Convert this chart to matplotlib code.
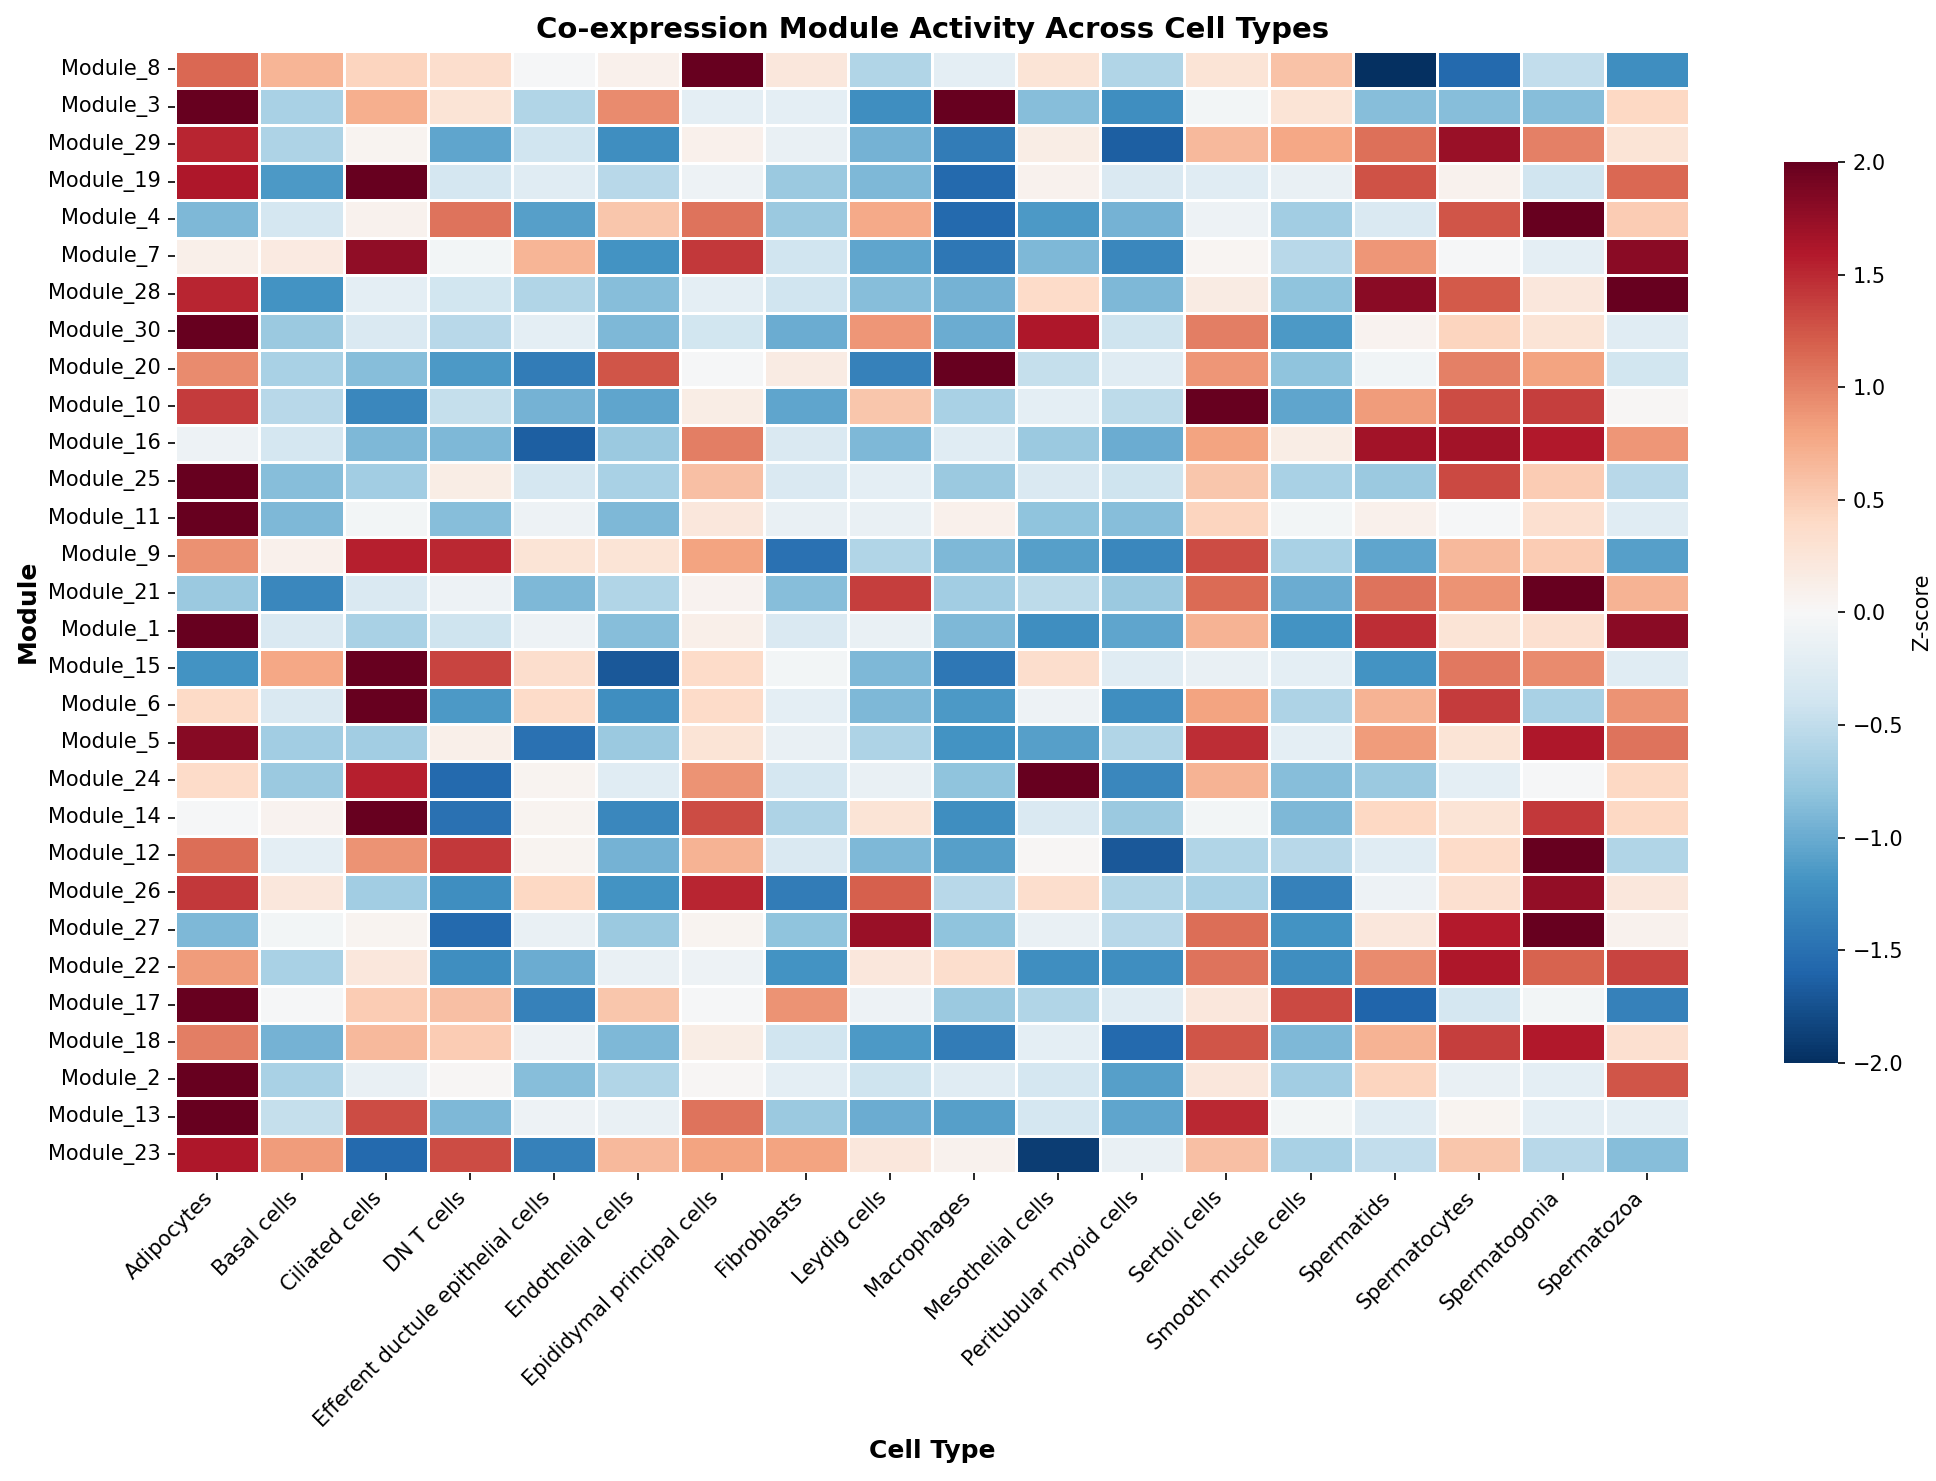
import matplotlib
matplotlib.use("Agg")
import matplotlib.pyplot as plt
import seaborn as sns
import numpy as np

cell_types = ["Adipocytes", "Basal cells", "Ciliated cells", "DN T cells",
              "Efferent ductule epithelial cells", "Endothelial cells",
              "Epididymal principal cells", "Fibroblasts", "Leydig cells",
              "Macrophages", "Mesothelial cells", "Peritubular myoid cells",
              "Sertoli cells", "Smooth muscle cells", "Spermatids",
              "Spermatocytes", "Spermatogonia", "Spermatozoa"]

modules = ["Module_8", "Module_3", "Module_29", "Module_19", "Module_4", "Module_7",
           "Module_28", "Module_30", "Module_20", "Module_10", "Module_16", "Module_25",
           "Module_11", "Module_9", "Module_21", "Module_1", "Module_15", "Module_6",
           "Module_5", "Module_24", "Module_14", "Module_12", "Module_26", "Module_27",
           "Module_22", "Module_17", "Module_18", "Module_2", "Module_13", "Module_23"]

zscores = [
    [1.15, 0.68, 0.45, 0.35, -0.03, 0.1, 2, 0.22, -0.6, -0.2, 0.28, -0.6, 0.28, 0.58, -2, -1.55, -0.5, -1.25],
    [2, -0.65, 0.72, 0.28, -0.6, 0.95, -0.2, -0.2, -1.25, 2, -0.85, -1.25, -0.05, 0.28, -0.85, -0.85, -0.85, 0.42],
    [1.52, -0.62, 0.05, -1.05, -0.4, -1.25, 0.1, -0.15, -0.95, -1.4, 0.15, -1.65, 0.65, 0.78, 1.1, 1.72, 1.0, 0.28],
    [1.62, -1.15, 2, -0.35, -0.25, -0.55, -0.1, -0.75, -0.9, -1.55, 0.08, -0.3, -0.25, -0.15, 1.28, 0.08, -0.4, 1.15],
    [-0.9, -0.35, 0.08, 1.08, -1.1, 0.55, 1.08, -0.75, 0.75, -1.55, -1.15, -0.95, -0.1, -0.7, -0.3, 1.25, 2, 0.5],
    [0.12, 0.18, 1.78, -0.05, 0.68, -1.2, 1.42, -0.4, -1.05, -1.45, -0.9, -1.3, 0.04, -0.55, 0.88, -0.02, -0.2, 1.8],
    [1.52, -1.2, -0.2, -0.38, -0.6, -0.85, -0.2, -0.4, -0.85, -0.95, 0.38, -0.9, 0.17, -0.8, 1.8, 1.22, 0.22, 2],
    [2, -0.75, -0.3, -0.55, -0.2, -0.9, -0.38, -1.0, 0.88, -1.0, 1.62, -0.42, 1.03, -1.15, 0.07, 0.45, 0.28, -0.25],
    [0.95, -0.65, -0.85, -1.15, -1.4, 1.25, -0.02, 0.17, -1.35, 2, -0.48, -0.25, 0.88, -0.8, -0.07, 1.0, 0.8, -0.38],
    [1.4, -0.55, -1.3, -0.48, -0.95, -1.05, 0.15, -1.05, 0.55, -0.65, -0.2, -0.52, 2, -1.05, 0.85, 1.3, 1.38, 0.02],
    [-0.1, -0.35, -0.9, -0.9, -1.65, -0.75, 1.03, -0.3, -0.9, -0.25, -0.75, -1.0, 0.8, 0.15, 1.68, 1.68, 1.6, 0.88],
    [2, -0.85, -0.7, 0.15, -0.35, -0.65, 0.6, -0.3, -0.2, -0.75, -0.3, -0.42, 0.55, -0.65, -0.75, 1.32, 0.5, -0.55],
    [2, -0.9, -0.05, -0.85, -0.1, -0.9, 0.22, -0.15, -0.15, 0.1, -0.8, -0.85, 0.45, -0.05, 0.1, -0.02, 0.32, -0.25],
    [0.92, 0.1, 1.55, 1.5, 0.28, 0.28, 0.8, -1.5, -0.6, -0.9, -1.1, -1.3, 1.3, -0.65, -1.05, 0.65, 0.5, -1.1],
    [-0.75, -1.3, -0.3, -0.1, -0.9, -0.6, 0.07, -0.85, 1.38, -0.7, -0.52, -0.75, 1.13, -1.0, 1.08, 0.9, 2, 0.7],
    [2, -0.3, -0.65, -0.42, -0.1, -0.85, 0.12, -0.3, -0.15, -0.9, -1.25, -1.05, 0.7, -1.2, 1.48, 0.28, 0.32, 1.8],
    [-1.2, 0.78, 2, 1.35, 0.35, -1.7, 0.38, -0.05, -0.9, -1.45, 0.35, -0.25, -0.15, -0.2, -1.2, 1.05, 0.95, -0.25],
    [0.4, -0.3, 2, -1.15, 0.38, -1.25, 0.38, -0.2, -0.9, -1.15, -0.1, -1.25, 0.8, -0.62, 0.7, 1.4, -0.65, 0.9],
    [1.82, -0.7, -0.7, 0.12, -1.5, -0.75, 0.28, -0.15, -0.62, -1.2, -1.1, -0.6, 1.48, -0.2, 0.85, 0.28, 1.62, 1.08],
    [0.38, -0.75, 1.55, -1.55, 0.05, -0.25, 0.9, -0.35, -0.15, -0.8, 2, -1.3, 0.7, -0.85, -0.75, -0.2, -0.02, 0.42],
    [-0.03, 0.07, 2, -1.5, 0.05, -1.3, 1.3, -0.62, 0.28, -1.25, -0.3, -0.75, -0.05, -0.9, 0.42, 0.28, 1.42, 0.42],
    [1.12, -0.2, 0.9, 1.42, 0.05, -0.95, 0.7, -0.3, -0.9, -1.1, 0.03, -1.7, -0.6, -0.55, -0.25, 0.38, 2, -0.6],
    [1.42, 0.22, -0.7, -1.25, 0.42, -1.2, 1.52, -1.4, 1.2, -0.55, 0.35, -0.6, -0.65, -1.35, -0.1, 0.32, 1.75, 0.22],
    [-0.9, -0.05, 0.05, -1.55, -0.15, -0.75, 0.05, -0.8, 1.72, -0.8, -0.15, -0.55, 1.12, -1.2, 0.22, 1.58, 2, 0.08],
    [0.85, -0.65, 0.22, -1.25, -1.0, -0.15, -0.1, -1.2, 0.22, 0.35, -1.25, -1.25, 1.08, -1.25, 0.95, 1.62, 1.18, 1.35],
    [2, -0.03, 0.5, 0.6, -1.35, 0.55, -0.03, 0.9, -0.1, -0.75, -0.6, -0.25, 0.22, 1.32, -1.6, -0.35, -0.05, -1.35],
    [1.03, -0.95, 0.65, 0.5, -0.1, -0.9, 0.15, -0.4, -1.15, -1.4, -0.2, -1.55, 1.25, -0.9, 0.7, 1.38, 1.6, 0.32],
    [2, -0.65, -0.15, 0.02, -0.85, -0.6, 0.02, -0.2, -0.42, -0.25, -0.35, -1.1, 0.22, -0.7, 0.45, -0.15, -0.2, 1.25],
    [2, -0.48, 1.3, -0.9, -0.1, -0.15, 1.08, -0.75, -1.0, -1.1, -0.35, -1.05, 1.5, -0.05, -0.25, 0.05, -0.2, -0.2],
    [1.62, 0.85, -1.55, 1.3, -1.35, 0.65, 0.8, 0.8, 0.22, 0.08, -1.9, -0.15, 0.6, -0.65, -0.5, 0.55, -0.55, -0.85],
]

fig = plt.figure(figsize=(1936 / 150, 1481 / 150), dpi=150)
ax = fig.add_axes([0.0906, 0.208, 0.7818, 0.7578])
cax = fig.add_axes([0.9215, 0.2825, 0.028, 0.608])

sns.heatmap(np.array(zscores), ax=ax, cbar_ax=cax, cmap="RdBu_r", center=0, vmin=-2, vmax=2,
            xticklabels=cell_types, yticklabels=modules, linewidths=1.4, linecolor="white",
            cbar_kws={"label": "Z-score"})

ax.set_title("Co-expression Module Activity Across Cell Types", fontsize=14, fontweight="bold")
ax.set_xlabel("Cell Type", fontsize=12, fontweight="bold")
ax.set_ylabel("Module", fontsize=12, fontweight="bold")
plt.setp(ax.get_xticklabels(), rotation=45, ha="right")
plt.setp(ax.get_yticklabels(), rotation=0)

fig.savefig("out.png", dpi=150)
